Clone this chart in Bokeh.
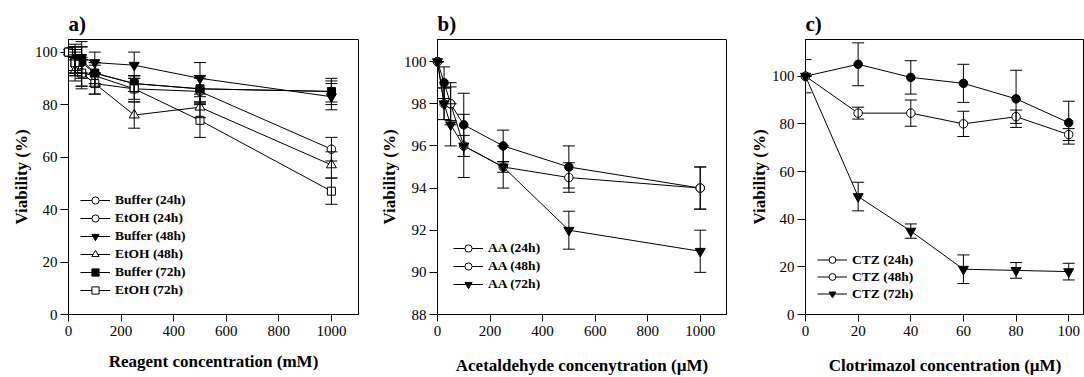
from bokeh.plotting import figure
from bokeh.models import (ColumnDataSource, Whisker, TeeHead, Legend, LegendItem,
                          Range1d, FixedTicker)
from bokeh.layouts import row
from bokeh.embed import file_html
from bokeh.resources import INLINE

FONT = "'Liberation Serif', 'Times New Roman', serif"

# ---------------- Panel a data ----------------
a_x = [0, 25, 50, 100, 250, 500, 1000]
a_buffer24 = [100, 97, 96, 92, 88, 86, 85]
a_buffer24_err = [2, 5, 6, 4, 3, 5, 4]
a_etoh24 = [100, 95, 92, 91, 86, 85, 63]
a_etoh24_err = [2, 4, 5, 4, 4, 5, 4.5]
a_buffer48 = [100, 98, 98, 96, 95, 90, 83]
a_buffer48_err = [2, 5, 6, 4, 5, 6, 5]
a_etoh48 = [100, 93, 92, 88, 76, 79, 57]
a_etoh48_err = [2, 4, 5, 4, 5, 4, 5]
a_buffer72 = [100, 96, 97, 92, 88, 86, 85]
a_buffer72_err = [2, 5, 5, 4, 3, 5, 5]
a_etoh72 = [100, 96, 92, 88, 86, 74, 47]
a_etoh72_err = [2, 4, 6, 4, 5, 6.5, 5]
a_labels = ["Buffer (24h)", "EtOH (24h)", "Buffer (48h)", "EtOH (48h)", "Buffer (72h)", "EtOH (72h)"]
a_xticks = [0, 200, 400, 600, 800, 1000]
a_yticks = [0, 20, 40, 60, 80, 100]

# ---------------- Panel b data ----------------
b_x = [0, 25, 50, 100, 250, 500, 1000]
b_aa24 = [100, 99, 98, 97, 96, 95, 94]
b_aa24_err = [0, 0.75, 1.0, 1.5, 0.75, 1.0, 1.0]
b_aa48 = [100, 98, 98, 96, 95, 94.5, 94]
b_aa48_err = [0, 0.75, 0.8, 0.5, 0.25, 0.7, 1.0]
b_aa72 = [100, 98, 97, 96, 95, 92, 91]
b_aa72_err = [0, 0.75, 1.0, 1.5, 1.0, 0.9, 1.0]
b_labels = ["AA (24h)", "AA (48h)", "AA (72h)"]
b_xticks = [0, 200, 400, 600, 800, 1000]
b_yticks = [88, 90, 92, 94, 96, 98, 100]

# ---------------- Panel c data ----------------
c_x = [0, 20, 40, 60, 80, 100]
c_ctz24 = [100, 105, 99.5, 97, 90.5, 80.5]
c_ctz24_err = [7, 9, 7, 8, 12, 9]
c_ctz48 = [100, 84.5, 84.5, 80, 83, 75.5]
c_ctz48_err = [0, 2.5, 5.5, 5.3, 2.8, 2.5]
c_ctz72 = [100, 49.5, 35, 19, 18.5, 18]
c_ctz72_err = [0, 6, 3, 6, 3.3, 3.5]
c_labels = ["CTZ (24h)", "CTZ (48h)", "CTZ (72h)"]
c_xticks = [0, 20, 40, 60, 80, 100]
c_yticks = [0, 20, 40, 60, 80, 100]

# marker styles: (marker, plot fill, legend fill)
ST_CIRC_F = ("circle", "black", "white")
ST_CIRC_O = ("circle", "white", "white")
ST_ITRI_F = ("inverted_triangle", "black", "black")
ST_TRI_O = ("triangle", "white", "white")
ST_SQ_F = ("square", "black", "black")
ST_SQ_O = ("square", "white", "white")
PSIZE = {"circle": 8.5, "inverted_triangle": 10, "triangle": 10, "square": 8}
LSIZE = {"circle": 6, "inverted_triangle": 8, "triangle": 8, "square": 7}


def make_panel(title, xlabel, x, series, xr, yr, xticks, yticks,
               left, fw, right, leg_loc, row_h, xlab_standoff, ylab_standoff):
    p = figure(frame_width=fw, frame_height=275, min_border_left=left,
               min_border_right=right, min_border_top=39, min_border_bottom=63,
               x_range=Range1d(*xr), y_range=Range1d(*yr),
               output_backend="svg", toolbar_location=None, title=title)
    p.title.text_font = FONT
    p.title.text_font_size = "21px"
    p.title.text_font_style = "bold"
    p.title.align = "left"
    p.title.standoff = 8
    p.title.text_color = "black"
    p.grid.visible = False
    p.outline_line_color = "black"
    p.outline_line_width = 1
    p.background_fill_color = "white"
    p.border_fill_color = "white"

    p.xaxis.ticker = FixedTicker(ticks=xticks)
    p.yaxis.ticker = FixedTicker(ticks=yticks)
    for ax in (p.xaxis[0], p.yaxis[0]):
        ax.axis_line_color = "black"
        ax.major_tick_line_color = "black"
        ax.major_tick_in = 0
        ax.minor_tick_line_color = None
        ax.major_label_text_font = FONT
        ax.major_label_text_font_size = "15px"
        ax.major_label_text_color = "black"
        ax.axis_label_text_font = FONT
        ax.axis_label_text_font_size = "17px"
        ax.axis_label_text_font_style = "bold"
        ax.axis_label_text_color = "black"
    p.xaxis.major_tick_out = 7
    p.yaxis.major_tick_out = 8
    p.xaxis.major_label_standoff = 4
    p.yaxis.major_label_standoff = 3
    p.xaxis.axis_label = xlabel
    p.yaxis.axis_label = "Viability (%)"
    p.xaxis.axis_label_standoff = xlab_standoff
    p.yaxis.axis_label_standoff = ylab_standoff

    items = []
    whisk = []
    for label, y, err, style in series:
        marker, pfill, lfill = style
        src = ColumnDataSource(dict(
            x=x, y=y,
            upper=[v + e for v, e in zip(y, err)],
            lower=[v - e for v, e in zip(y, err)]))
        lr = p.line("x", "y", source=src, line_color="black", line_width=1)
        w = Whisker(source=src, base="x", upper="upper", lower="lower",
                    dimension="height", line_color="black", line_width=1,
                    level="overlay",
                    upper_head=TeeHead(size=12, line_color="black", line_width=1),
                    lower_head=TeeHead(size=12, line_color="black", line_width=1))
        whisk.append(w)
        items.append((label, lr, src, marker, pfill, lfill))
    for w in whisk:
        p.add_layout(w)
    leg_items = []
    for label, lr, src, marker, pfill, lfill in items:
        p.scatter("x", "y", source=src, marker=marker, size=PSIZE[marker],
                  fill_color=pfill, line_color="black", line_width=1,
                  level="overlay")
        hid = p.scatter("x", "y", source=src, marker=marker, size=LSIZE[marker],
                        fill_color=lfill, line_color="black", line_width=1)
        hid.visible = False
        leg_items.append(LegendItem(label=label, renderers=[lr, hid]))
    legend = Legend(items=leg_items, location=leg_loc, padding=4, margin=0,
                    spacing=0, glyph_width=30, glyph_height=row_h,
                    label_height=row_h, label_standoff=5,
                    label_text_font=FONT, label_text_font_style="bold",
                    label_text_font_size="13.5px", label_text_color="black",
                    border_line_color=None, background_fill_color="white",
                    background_fill_alpha=1.0)
    p.add_layout(legend)
    return p


pa = make_panel("a)", "Reagent concentration (mM)", a_x,
                list(zip(a_labels,
                         [a_buffer24, a_etoh24, a_buffer48, a_etoh48, a_buffer72, a_etoh72],
                         [a_buffer24_err, a_etoh24_err, a_buffer48_err, a_etoh48_err,
                          a_buffer72_err, a_etoh72_err],
                         [ST_CIRC_F, ST_CIRC_O, ST_ITRI_F, ST_TRI_O, ST_SQ_F, ST_SQ_O])),
                (0, 1103), (0, 104.8), a_xticks, a_yticks,
                68, 290, 12, (12, 15), 18, 13, 1)

pb = make_panel("b)", "Acetaldehyde concenytration (\u00b5M)", b_x,
                list(zip(b_labels, [b_aa24, b_aa48, b_aa72],
                         [b_aa24_err, b_aa48_err, b_aa72_err],
                         [ST_CIRC_F, ST_CIRC_O, ST_ITRI_F])),
                (0, 1100), (88, 101.05), b_xticks, b_yticks,
                67, 289, 9, (16, 21), 18, 17, 2)

pc = make_panel("c)", "Clotrimazol concentration (\u00b5M)", c_x,
                list(zip(c_labels, [c_ctz24, c_ctz48, c_ctz72],
                         [c_ctz24_err, c_ctz48_err, c_ctz72_err],
                         [ST_CIRC_F, ST_CIRC_O, ST_ITRI_F])),
                (0, 106), (0, 115.4), c_xticks, c_yticks,
                70, 279, 0, (12, 12), 17, 17, 0)

layout = row(pa, pb, pc)
open("out.html", "w").write(file_html(layout, INLINE))
